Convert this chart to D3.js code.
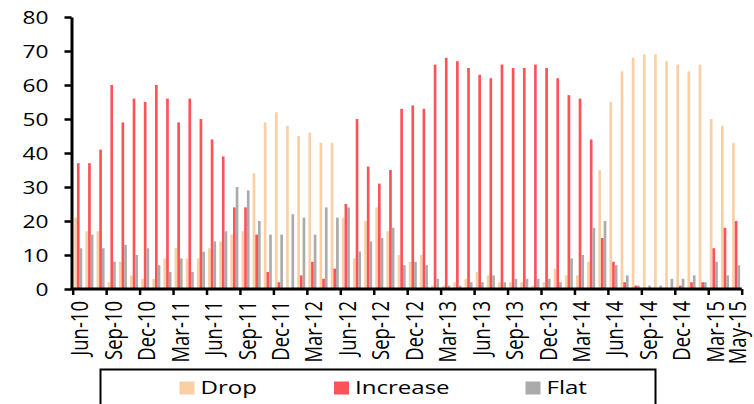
<!DOCTYPE html>
<html>
<head>
    <script src="https://d3js.org/d3.v7.min.js"></script>
    <style>
        body { margin: 0; background: #fff; }
        text { font-family: "Open Sans", sans-serif; fill: #000; }
    </style>
</head>
<body>
    <svg width="754" height="404"></svg>

    <script>
        const svg = d3.select("svg");

        // Months on the category axis
        const months = [
            "Jun-10","Jul-10","Aug-10","Sep-10","Oct-10","Nov-10","Dec-10","Jan-11","Feb-11","Mar-11",
            "Apr-11","May-11","Jun-11","Jul-11","Aug-11","Sep-11","Oct-11","Nov-11","Dec-11","Jan-12",
            "Feb-12","Mar-12","Apr-12","May-12","Jun-12","Jul-12","Aug-12","Sep-12","Oct-12","Nov-12",
            "Dec-12","Jan-13","Feb-13","Mar-13","Apr-13","May-13","Jun-13","Jul-13","Aug-13","Sep-13",
            "Oct-13","Nov-13","Dec-13","Jan-14","Feb-14","Mar-14","Apr-14","May-14","Jun-14","Jul-14",
            "Aug-14","Sep-14","Oct-14","Nov-14","Dec-14","Jan-15","Feb-15","Mar-15","Apr-15","May-15"
        ];
        const labelledMonths = ["Jun-10","Sep-10","Dec-10","Mar-11","Jun-11","Sep-11","Dec-11","Mar-12",
            "Jun-12","Sep-12","Dec-12","Mar-13","Jun-13","Sep-13","Dec-13","Mar-14","Jun-14","Sep-14",
            "Dec-14","Mar-15","May-15"];

        const seriesNames = ["Drop", "Increase", "Flat"];
        const drop = [21,17,17,2,8,4,3,3,9,12, 9,9,12,14,16,17,34,49,52,48,
                      45,46,43,43,21,9,20,24,17,10, 8,10,1,1,2,3,5,4,2,2,
                      2,1,2,6,4,4,8,35,55,64, 68,69,69,67,66,64,66,50,48,43];
        const increase = [37,37,41,60,49,56,55,60,56,49, 56,50,44,39,24,24,16,5,2,0,
                          4,8,3,6,25,50,36,31,35,53, 54,53,66,68,67,65,63,62,66,65,
                          65,66,65,62,57,56,44,15,8,2, 1,0,0,0,1,2,2,12,18,20];
        const flat = [12,16,12,8,13,10,12,7,5,9, 5,11,14,17,30,29,20,16,16,22,
                      21,16,24,21,24,11,14,15,18,7, 8,7,3,1,1,2,2,4,2,3,
                      3,3,3,2,9,10,18,20,7,4, 1,1,1,3,3,4,2,8,4,7];
        const yTicks = [0,10,20,30,40,50,60,70,80];

        const colors = { Drop: "#F9CFA3", Increase: "#FC5358", Flat: "#ABABAB" };
        const stretch = 1.3; // text in the source is drawn wide

        const plotLeft = 72.7, plotRight = 741.7, plotTop = 17, plotBottom = 289;

        const data = months.map((m, i) => ({ month: m, Drop: drop[i], Increase: increase[i], Flat: flat[i] }));

        const x0 = d3.scaleBand().domain(months).range([plotLeft, plotRight])
            .paddingInner(0.28).paddingOuter(0.14);
        const x1 = d3.scaleBand().domain(seriesNames).range([0, x0.bandwidth()]);
        const xi = d3.scaleLinear().domain([0, months.length]).range([plotLeft, plotRight]);
        const y = d3.scaleLinear().domain([0, 80]).range([plotBottom, plotTop]);

        // bars
        svg.append("g").selectAll("g")
            .data(data)
            .join("g")
            .attr("transform", d => `translate(${x0(d.month)},0)`)
            .selectAll("rect")
            .data(d => seriesNames.map(k => ({ key: k, value: d[k] })))
            .join("rect")
            .attr("x", d => x1(d.key))
            .attr("width", x1.bandwidth())
            .attr("y", d => y(d.value))
            .attr("height", d => y(0) - y(d.value))
            .attr("fill", d => colors[d.key]);

        // y axis
        const yAxis = svg.append("g")
            .attr("transform", "translate(71.5,0)")
            .call(d3.axisLeft(y).tickValues(yTicks).tickSize(7).tickSizeOuter(0).tickFormat(""));
        yAxis.select(".domain").attr("stroke-width", 3);
        yAxis.selectAll(".tick line").attr("stroke-width", 2.5);
        yAxis.selectAll(".tick").append("text")
            .attr("transform", `translate(-23,0) scale(${stretch},1)`)
            .attr("text-anchor", "end")
            .attr("dy", "0.36em")
            .attr("font-size", "17.5px")
            .text(d => d);

        // x axis: ticks on category boundaries every 3 months
        const xAxis = svg.append("g")
            .attr("transform", `translate(0,${plotBottom})`)
            .call(d3.axisBottom(xi).tickValues(d3.range(0, months.length + 1, 3)).tickSize(6).tickSizeOuter(0).tickFormat(""));
        xAxis.select(".domain").attr("stroke-width", 3).attr("d", `M${plotLeft - 2.5},0H${plotRight}`);
        xAxis.selectAll(".tick line").attr("stroke-width", 2.5);

        svg.append("g").selectAll("text")
            .data(labelledMonths)
            .join("text")
            .attr("transform", d => `translate(${x0(d) + x0.bandwidth() / 2 + 10},301) scale(${stretch},1) rotate(-90)`)
            .attr("text-anchor", "end")
            .attr("font-size", "18.5px")
            .text(d => d);

        // legend
        const legend = svg.append("g");
        legend.append("rect")
            .attr("x", 100.5).attr("y", 369.5)
            .attr("width", 555).attr("height", 60)
            .attr("fill", "none").attr("stroke", "#000").attr("stroke-width", 2);
        const legendX = [179.5, 334, 525.5];
        const item = legend.selectAll("g.item")
            .data(seriesNames)
            .join("g")
            .attr("class", "item")
            .attr("transform", (d, i) => `translate(${legendX[i]},0)`);
        item.append("rect")
            .attr("y", 381.5).attr("width", 15).attr("height", 13)
            .attr("fill", d => colors[d]);
        item.append("text")
            .attr("transform", `translate(21,393.5) scale(${stretch},1)`)
            .attr("font-size", "18.5px")
            .text(d => d);
    </script>
</body>
</html>
